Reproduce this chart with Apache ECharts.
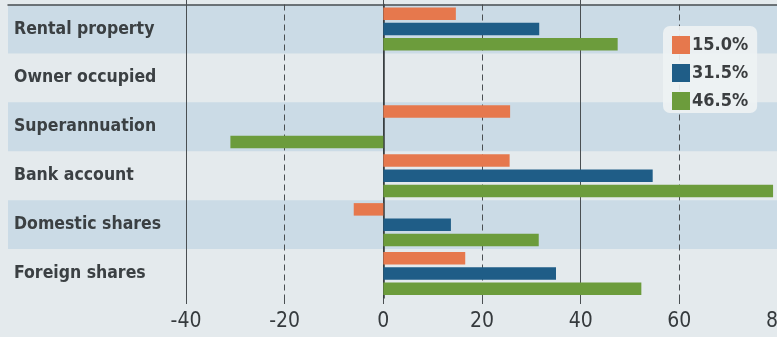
<!DOCTYPE html>
<html><head><meta charset="utf-8">
<script src="https://cdn.jsdelivr.net/npm/echarts@6/dist/echarts.min.js"></script>
<style>html,body{margin:0;padding:0;background:#e4eaed;}#c{width:777px;height:337px;}</style>
</head><body><div id="c"></div>
<script>
const categories = ['Rental property','Owner occupied','Superannuation','Bank account','Domestic shares','Foreign shares'];
const seriesNames = ['15.0%','31.5%','46.5%'];
const s15 = [14.7, 0, 25.7, 25.6, -6.0, 16.6];
const s31 = [31.6, 0, 0, 54.6, 13.7, 35.0];
const s46 = [47.5, 0, -31.0, 79.0, 31.5, 52.3];
const colors = ['#e6784d','#1f5d87','#6c9c3c'];
const FONT = '"Liberation Sans Narrow","DejaVu Sans Condensed",sans-serif';

const chart = echarts.init(document.getElementById('c'), null, {renderer:'canvas'});
const mkSeries = (name, data, i) => ({
  name, type:'bar', data, xAxisIndex:1, yAxisIndex:1,
  barWidth:12.5, barGap:'22%',
  itemStyle:{color:colors[i]}
});
chart.setOption({
  backgroundColor:'#e4eaed',
  animation:false,
  grid:[
    {left:8, right:0, top:4.5, bottom:39, containLabel:false, outerBoundsMode:'none'},
    {left:186, width:592, top:4.5, bottom:39, containLabel:false, outerBoundsMode:'none'}
  ],
  xAxis:[
    {gridIndex:0, type:'value', position:'top', min:0, max:1,
     axisLine:{show:true, lineStyle:{color:'#4a4f52', width:1.5}},
     axisTick:{show:false}, axisLabel:{show:false}, splitLine:{show:false}},
    {gridIndex:1, type:'value', min:-40, max:80, interval:20,
     axisLine:{show:false},
     axisTick:{show:true, length:7, lineStyle:{color:'#4a4f52', type:[6,4]}},
     axisLabel:{show:true, margin:13, fontFamily:FONT, fontSize:21, color:'#353a3d'},
     splitLine:{show:true, lineStyle:{color:'#4a4f52', width:1, type:[6,4]}}},
    {gridIndex:1, type:'value', min:-40, max:80, interval:40,
     axisLine:{show:false},
     axisTick:{show:true, length:7, lineStyle:{color:'#4a4f52', width:1}},
     axisLabel:{show:false},
     splitLine:{show:true, lineStyle:{color:'#4a4f52', width:1}}}
  ],
  yAxis:[
    {gridIndex:0, type:'category', data:categories, inverse:true,
     axisLine:{show:false}, axisTick:{show:false}, axisLabel:{show:false},
     splitArea:{show:true, areaStyle:{color:['#cbdbe6','rgba(0,0,0,0)']}}},
    {gridIndex:1, type:'category', data:categories, inverse:true,
     axisLine:{show:true, onZero:true, onZeroAxisIndex:1, lineStyle:{color:'#33383b', width:1.5}},
     axisTick:{show:false},
     axisLabel:{show:true, align:'left', margin:172, fontFamily:FONT, fontWeight:'bold', fontSize:17.5, color:'#3b4043'},
     splitLine:{show:false}}
  ],
  legend:{
    orient:'vertical', left:663, top:26,
    data:seriesNames,
    backgroundColor:'rgba(238,242,243,0.92)', borderRadius:7,
    padding:[10,9,3,9],
    itemWidth:18, itemHeight:18, itemGap:10,
    icon:'rect',
    textStyle:{fontFamily:FONT, fontWeight:'bold', fontSize:18, color:'#3b3e40', lineHeight:18, padding:[0,0,0,-3]}
  },
  series:[mkSeries(seriesNames[0], s15, 0), mkSeries(seriesNames[1], s31, 1), mkSeries(seriesNames[2], s46, 2)]
});
</script></body></html>
